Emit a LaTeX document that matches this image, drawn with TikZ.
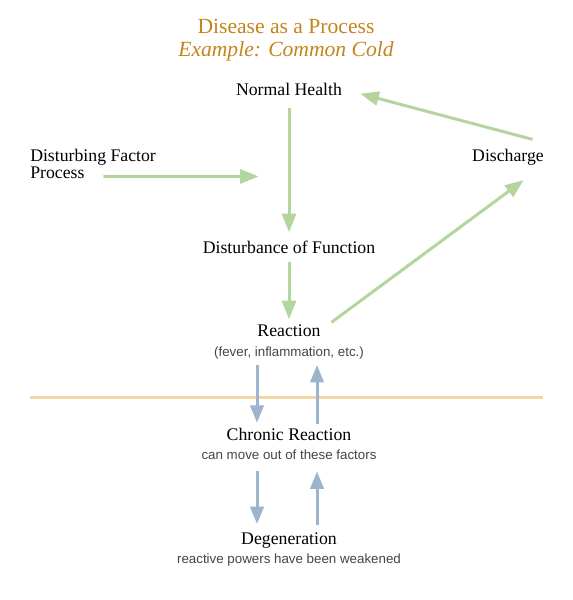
\documentclass[tikz,border=0pt]{standalone}
\usepackage{fontspec}
\setmainfont{Liberation Serif}
\setsansfont{Liberation Sans}
\usetikzlibrary{arrows.meta}
\definecolor{TitleOrange}{HTML}{C4841C}
\definecolor{FlowGreen}{HTML}{B5D5A0}
\definecolor{LoopBlue}{HTML}{9CB4CC}
\definecolor{RuleSand}{HTML}{F1D7A5}
\definecolor{NoteGray}{HTML}{444444}

\begin{document}
\begin{tikzpicture}[scale=0.75, x=1pt, y=-1pt,
    label/.style={anchor=base, inner sep=0pt, font=\fontsize{13.3}{16}\selectfont},
    note/.style={anchor=base, inner sep=0pt, text=NoteGray, font=\sffamily\fontsize{10}{12}\selectfont},
    head/.style={anchor=base, inner sep=0pt, text=TitleOrange, font=\fontsize{16.2}{19}\selectfont},
    greenarrow/.style={-{Triangle[length=14pt,width=10.5pt]}, line width=2.25pt, FlowGreen},
    bluearrow/.style={-{Triangle[length=13pt,width=10pt]}, line width=2.25pt, LoopBlue}]
    \useasboundingbox (0,0) rectangle (573,600);

    % Titel
    \node[head] (title) at (286,33) {Disease as a Process};
    \node[head] (subtitle) at (286,56) {\itshape Example: Common Cold};

    % Stationen
    \node[label] (health) at (289,95) {Normal Health};
    \node[label, anchor=base west] (factor) at (30,161) {Disturbing Factor};
    \node[label, anchor=base west] (process) at (30,178) {Process};
    \node[label] (discharge) at (508,161) {Discharge};
    \node[label] (disturb) at (289,253) {Disturbance of Function};
    \node[label] (reaction) at (289,336) {Reaction};
    \node[note] (reactionnote) at (289,356) {(fever, inflammation, etc.)};
    \node[label] (chronic) at (289,440) {Chronic Reaction};
    \node[note] (chronicnote) at (289,459) {can move out of these factors};
    \node[label] (degen) at (289,544) {Degeneration};
    \node[note] (degennote) at (289,563) {reactive powers have been weakened};
    \path ([yshift=-1.5pt]process.mid east) ++(174,0) coordinate (entry);

    % Trennlinie
    \draw[RuleSand, line width=2.25pt] (30,397) -- (543,397);

    % Pfeile grün
    \draw[greenarrow, shorten <=9.5pt, shorten >=6pt] (health.south) -- (disturb.north);
    \draw[greenarrow, shorten <=6.5pt, shorten >=3.5pt] (disturb.south) -- (reaction.north);
    \draw[greenarrow, shorten <=14pt] ([yshift=-1.5pt]process.mid east) -- (entry);
    \draw[greenarrow, shorten <=10pt, shorten >=19pt] (reaction.east) -- (discharge.south east);
    \draw[greenarrow, shorten <=9pt, shorten >=14pt] ([yshift=6pt]discharge.north east) -- (health.east);

    % Pfeile blau
    \draw[bluearrow, shorten <=4.5pt, shorten >=3.5pt] ([xshift=-32pt]reactionnote.south) -- ([xshift=-32pt]chronic.north);
    \draw[bluearrow, shorten <=2.5pt, shorten >=4.5pt] ([xshift=28pt]chronic.north) -- ([xshift=28pt]reactionnote.south);
    \draw[bluearrow, shorten <=9pt, shorten >=6pt] ([xshift=-32pt]chronicnote.south) -- ([xshift=-32pt]degen.north);
    \draw[bluearrow, shorten <=5pt, shorten >=9pt] ([xshift=28pt]degen.north) -- ([xshift=28pt]chronicnote.south);
  \end{tikzpicture}
\end{document}
